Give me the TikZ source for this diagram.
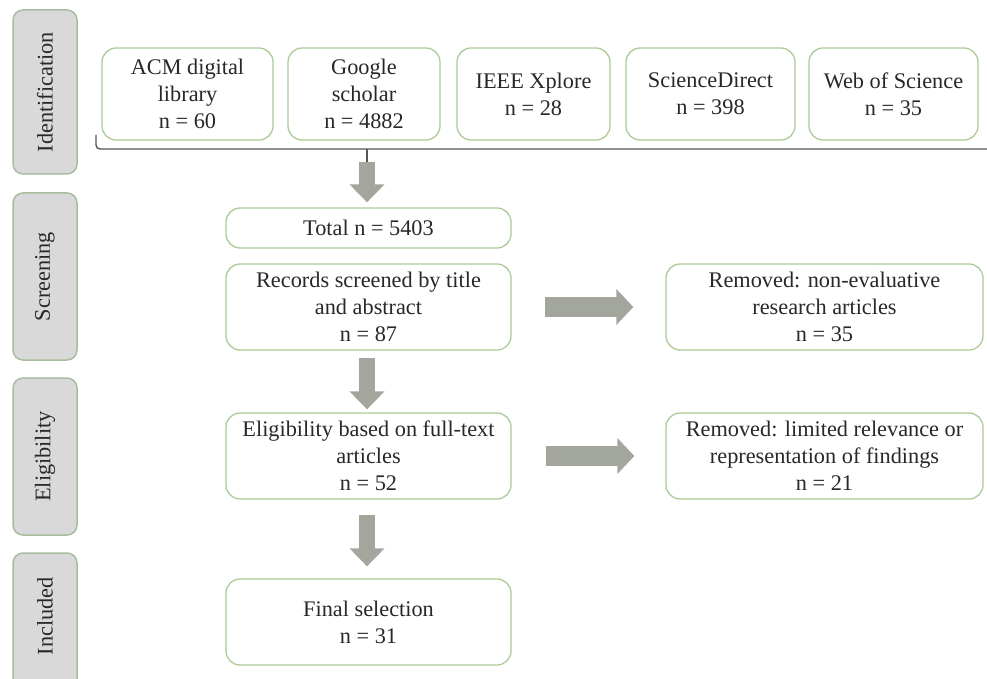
\documentclass[tikz,border=0pt]{standalone}
\usepackage{fontspec}
\setmainfont{Liberation Serif}
\usetikzlibrary{arrows.meta}
\definecolor{boxgreen}{RGB}{172,203,152}
\definecolor{stagefill}{RGB}{217,217,217}
\definecolor{stageline}{RGB}{168,188,158}
\definecolor{arrowgray}{RGB}{163,166,157}
\definecolor{txt}{RGB}{40,40,40}
\definecolor{bracegray}{RGB}{85,85,85}
\tikzset{
  box/.style={draw=boxgreen, line width=1.3pt, rounded corners=14pt, fill=white,
    align=center, text=txt, inner sep=2pt,
    font=\fontsize{22.3}{27}\selectfont},
  stage/.style={draw=stageline, line width=1.5pt, rounded corners=10pt, fill=stagefill,
    rotate=90, align=center, text=txt, minimum height=64pt, inner sep=0pt,
    font=\fontsize{22.3}{27}\selectfont},
  downarrow/.style={draw=arrowgray, line width=16pt,
    -{Triangle[width=34pt,length=18pt]}},
  rightarrow/.style={draw=arrowgray, line width=20pt,
    -{Triangle[width=35pt,length=17pt]}},
  brace/.style={draw=bracegray, line width=1.4pt, rounded corners=4pt}
}
\begin{document}
\begin{tikzpicture}[x=1pt,y=-1pt]
\useasboundingbox (0,0) rectangle (987,679);
\clip (0,0) rectangle (987,679);
% stage labels
\node[stage, minimum width=164pt] (sid) at (45,92) {Identification};
\node[stage, minimum width=167pt] (sscr) at (45,276.5) {Screening};
\node[stage, minimum width=157pt] (sel) at (45,456.5) {Eligibility};
\node[stage, minimum width=150pt] (sinc) at (45,628) {};
\node[text=txt, rotate=90, font=\fontsize{22.3}{27}\selectfont] (tinc) at (45,616) {Included};
% sources
\node[box, minimum width=171pt, minimum height=92pt] (acm) at (187.5,94) {ACM digital\\library\\n = 60};
\node[box, minimum width=152pt, minimum height=92pt] (goo) at (364,94) {Google\\scholar\\n = 4882};
\node[box, minimum width=153pt, minimum height=92pt] (ieee) at (533.5,94) {IEEE Xplore\\n = 28};
\node[box, minimum width=169pt, minimum height=92pt] (sd) at (710.5,94) {ScienceDirect\\n = 398};
\node[box, minimum width=169pt, minimum height=92pt] (wos) at (893.5,94) {Web of Science\\n = 35};
% brace
\coordinate (bl) at (96,135);
\coordinate (br) at (1000,149);
\coordinate (bmid) at (367,149);
\coordinate (stem) at (367,162);
\draw[brace] (bl) |- (br);
\draw[draw=bracegray, line width=1.4pt] (bmid) -- (stem);
% flow
\node[box, minimum width=285pt, minimum height=40pt] (total) at (368.5,228) {Total n = 5403};
\node[box, minimum width=285pt, minimum height=86pt] (rec) at (368.5,307) {Records screened by title\\and abstract\\n = 87};
\node[box, minimum width=317pt, minimum height=86pt] (rem1) at (824.5,307) {Removed: non-evaluative\\research articles\\n = 35};
\node[box, minimum width=285pt, minimum height=86pt] (elig) at (368.5,456) {Eligibility based on full-text\\articles\\n = 52};
\node[box, minimum width=317pt, minimum height=86pt] (rem2) at (824.5,456) {Removed: limited relevance or\\representation of findings\\n = 21};
\node[box, minimum width=285pt, minimum height=86pt] (fin) at (368.5,622) {Final selection\\n = 31};
% arrows
\draw[downarrow, shorten >=5pt] (stem) -- (stem |- total.north);
\draw[downarrow, shorten <=7pt, shorten >=3pt] (rec.south -| stem) -- (elig.north -| stem);
\draw[downarrow, shorten <=15pt, shorten >=12pt] (elig.south -| stem) -- (fin.north -| stem);
\draw[rightarrow, shorten <=33pt, shorten >=32pt] (rec.east) -- (rem1.west);
\draw[rightarrow, shorten <=34pt, shorten >=31pt] (elig.east) -- (rem2.west);
\end{tikzpicture}
\end{document}
